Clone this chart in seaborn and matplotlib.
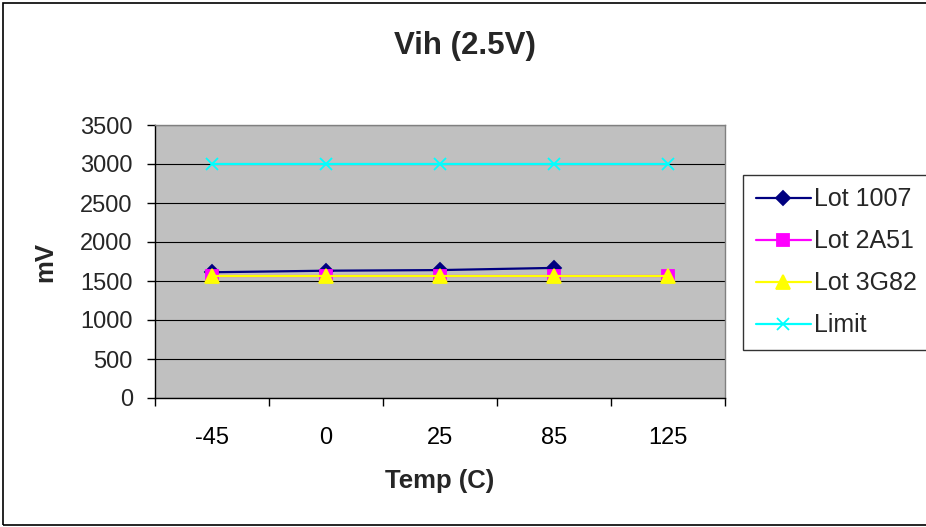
import matplotlib
matplotlib.use("Agg")
import matplotlib.pyplot as plt
import seaborn as sns
import pandas as pd
from matplotlib.patches import Rectangle
from matplotlib.ticker import FixedLocator

temps = ["-45", "0", "25", "85", "125"]
lot1007 = [1612, 1632, 1640, 1668]
lot2a51 = [1565, 1565, 1565, 1565, 1565]
lot3g82 = [1560, 1560, 1560, 1560, 1560]
limit = [3000, 3000, 3000, 3000, 3000]
series_names = ["Lot 1007", "Lot 2A51", "Lot 3G82", "Limit"]
series_vals = [lot1007, lot2a51, lot3g82, limit]

sns.set_theme(style="white")
plt.rcParams["font.family"] = ["Liberation Sans", "DejaVu Sans"]

fig = plt.figure(figsize=(9.26, 5.27), dpi=100)
ax = fig.add_axes([155/926, 1-398/527, (725-155)/926, (398-125)/527])
ax.set_facecolor("#C0C0C0")

colors = ["#000080", "#FF00FF", "#FFFF00", "#00FFFF"]
marks = ["D", "s", "^", "x"]
msizes = [7, 9, 10, 8]
for name, vals, c, m, ms in zip(series_names, series_vals, colors, marks, msizes):
    d = pd.DataFrame({"x": list(range(len(vals))), "mV": vals})
    sns.lineplot(data=d, x="x", y="mV", color=c, marker=m, markersize=ms,
                 markeredgecolor=c, markeredgewidth=1.3, linewidth=1.6, ax=ax, label=name)

ax.set_xlim(-0.5, 4.5)
ax.set_ylim(0, 3500)
ax.set_yticks(range(0, 3501, 500))
ax.set_xticks(range(len(temps)))
ax.set_xticklabels(temps)
ax.xaxis.set_minor_locator(FixedLocator([i - 0.5 for i in range(len(temps) + 1)]))
ax.tick_params(axis="x", which="major", length=0, pad=21, labelsize=17, colors="black")
ax.tick_params(axis="x", which="minor", length=6, width=1, color="black", direction="out", bottom=True)
ax.tick_params(axis="y", which="major", length=6, width=1, color="black", direction="out",
               labelsize=17, pad=10, left=True)
ax.yaxis.grid(True, color="black", linewidth=0.8)
ax.xaxis.grid(False)
ax.set_axisbelow(True)
for s in ["top", "right"]:
    ax.spines[s].set_color("#808080")
    ax.spines[s].set_linewidth(1)
for s in ["left", "bottom"]:
    ax.spines[s].set_color("black")
    ax.spines[s].set_linewidth(1)

ax.set_xlabel("Temp (C)", fontsize=18.5, fontweight="bold", va="center")
ax.xaxis.set_label_coords((440-155)/570, (398-481)/273)
ax.set_ylabel("mV", fontsize=18.5, fontweight="bold", va="center")
ax.yaxis.set_label_coords((45-155)/570, 0.5)
fig.text(465/926, 1 - 46/527, "Vih (2.5V)", ha="center", va="center",
         fontsize=22.5, fontweight="bold")

handles, labels = ax.get_legend_handles_labels()
ax.get_legend().remove()
leg = fig.legend(handles, labels, loc="upper left", bbox_to_anchor=(743/926, 1-175/527),
                 frameon=True, fancybox=False, fontsize=18, labelspacing=0.72,
                 handlelength=2.2, handletextpad=0.15, borderpad=0.5, borderaxespad=0)
leg.get_frame().set_edgecolor("black")
leg.get_frame().set_linewidth(1)
leg.get_frame().set_facecolor("white")

fig.patches.append(Rectangle((3/926, 0.003), 1.2, 1 - 3/527 - 0.003, transform=fig.transFigure,
                             fill=False, edgecolor="black", linewidth=1.2))

fig.savefig("out.png", dpi=100, facecolor="white")
